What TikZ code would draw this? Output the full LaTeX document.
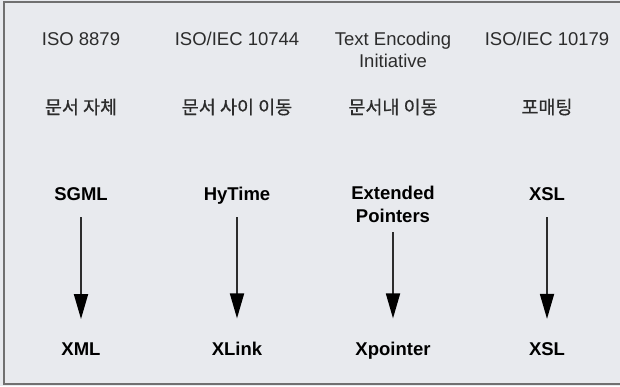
\documentclass[tikz,border=0pt]{standalone}
\usepackage{fontspec}
\setmainfont{Liberation Sans}
\newfontfamily\kofont[FakeBold=0.5]{Noto Sans CJK KR}
\usepackage{xcolor}
\usetikzlibrary{arrows.meta}

\definecolor{panelbg}{HTML}{E8EAEE}
\definecolor{panelrule}{HTML}{707070}
\definecolor{txtgray}{HTML}{2C2C2C}

\begin{document}
\begin{tikzpicture}[
  x=1pt, y=-1pt,
  every node/.style={inner sep=0pt, text=txtgray, font=\fontsize{18.5}{22}\selectfont},
  std/.style={anchor=base, align=center},
  kor/.style={font=\kofont\fontsize{18.5}{22}\selectfont},
  lang/.style={anchor=base, align=center, text=black, font=\bfseries\fontsize{18.5}{23}\selectfont},
  arr/.style={draw=txtgray, line width=1.8pt, -{Triangle[length=25pt, width=14pt, color=black]}},
]
  \useasboundingbox (0,0) rectangle (620,386);
  \fill[panelbg] (0,0) rectangle (620,386);
  \draw[panelrule, line width=1.8pt] (4,2) rectangle (630,384);

  % standards (base = last line)
  \node[std] (iso) at (81,45) {ISO 8879};
  \node[std] (hyiso) at (237,45) {ISO/IEC 10744};
  \node[std] (tei) at (393,67) {Text Encoding\\Initiative};
  \node[std] (xsliso) at (547,45) {ISO/IEC 10179};

  % roles
  \node[kor] (self) at (81,107) {문서 자체};
  \node[kor] (between) at (237,107) {문서 사이 이동};
  \node[kor] (within) at (393,107) {문서내 이동};
  \node[kor] (format) at (547,107) {포매팅};

  % sources
  \node[lang] (sgml) at (81,200) {SGML};
  \node[lang] (hytime) at (237,200) {HyTime};
  \node[lang] (ext) at (393,222) {Extended\\Pointers};
  \node[lang] (xslsrc) at (547,200) {XSL};

  % XML family
  \node[lang] (xml) at (81,355) {XML};
  \node[lang] (xlink) at (237,355) {XLink};
  \node[lang] (xpointer) at (393,355) {Xpointer};
  \node[lang] (xsl) at (547,355) {XSL};

  \draw[arr, shorten <=17pt, shorten >=23pt] (sgml.base) -- (xml.north);
  \draw[arr, shorten <=17pt, shorten >=23pt] (hytime.base) -- (xlink.north);
  \draw[arr, shorten <=10pt, shorten >=23pt] (ext.base) -- (xpointer.north);
  \draw[arr, shorten <=17pt, shorten >=23pt] (xslsrc.base) -- (xsl.north);
\end{tikzpicture}
\end{document}
